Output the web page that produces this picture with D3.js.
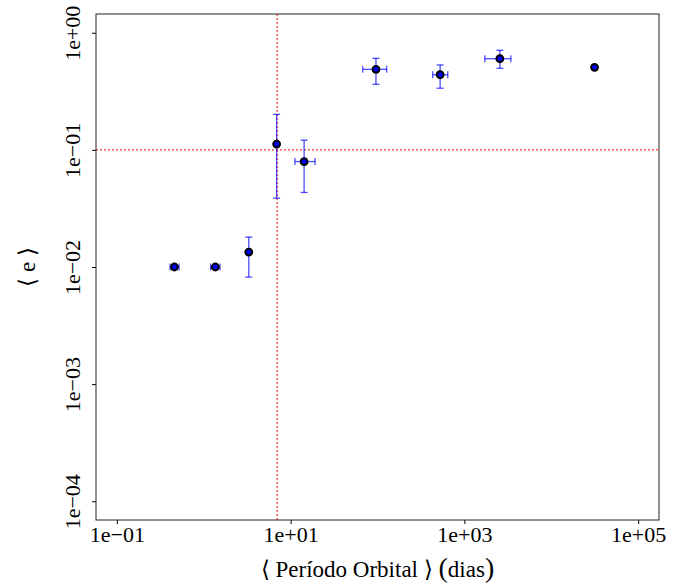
<!DOCTYPE html>
<html>
<head>
<meta charset="utf-8">
<script src="https://cdn.jsdelivr.net/npm/d3@7"></script>
<style>
  body { margin: 0; background: #fff; }
</style>
</head>
<body>
<svg id="chart"></svg>
<script>
// mean orbital period (days) and mean eccentricity per bin
var periods  = [0.46, 1.36, 3.3, 6.9, 14.3, 96, 526, 2560, 31500];
var ecc      = [0.01, 0.01, 0.0134, 0.112, 0.0795, 0.487, 0.438, 0.60, 0.507];
// error bar limits (null = no bar)
var eccLow   = [null, null, 0.0082, 0.0387, 0.0433, 0.363, 0.336, 0.497, null];
var eccHigh  = [null, null, 0.018, 0.201, 0.121, 0.605, 0.531, 0.708, null];
var perLow   = [0.41, 1.2, null, null, 11.2, 67.6, 432, 1718, null];
var perHigh  = [0.52, 1.54, null, null, 19.1, 127.6, 644, 3428, null];

var xTicks = [1e-1, 1e1, 1e3, 1e5];
var xTickLabels = ["1e\u221201", "1e+01", "1e+03", "1e+05"];
var yTicks = [1e-4, 1e-3, 1e-2, 1e-1, 1];
var yTickLabels = ["1e\u221204", "1e\u221203", "1e\u221202", "1e\u221201", "1e+00"];

var vLine = 7.0, hLine = 0.1;

var svgWidth = 689, svgHeight = 588;
var pLeft = 96, pRight = 659, pTop = 14, pBottom = 520;
var serif = "'Liberation Serif'";

var svg = d3.select("#chart")
    .attr("width", svgWidth)
    .attr("height", svgHeight);

// R style 4% padding around xlim = c(0.1, 1e5), ylim = c(1e-4, 1)
var xPad = 0.04 * 6, yPad = 0.04 * 4;
var xScale = d3.scaleLog()
    .domain([Math.pow(10, -1 - xPad), Math.pow(10, 5 + xPad)])
    .range([pLeft, pRight]);
var yScale = d3.scaleLog()
    .domain([Math.pow(10, -4 - yPad), Math.pow(10, 0 + yPad)])
    .range([pBottom, pTop]);

// reference lines
svg.append("line")
    .attr("x1", xScale(vLine)).attr("x2", xScale(vLine))
    .attr("y1", pTop).attr("y2", pBottom)
    .attr("stroke", "#ff0000").attr("stroke-width", 1)
    .attr("stroke-dasharray", "2,2");
svg.append("line")
    .attr("x1", pLeft).attr("x2", pRight)
    .attr("y1", yScale(hLine)).attr("y2", yScale(hLine))
    .attr("stroke", "#ff0000").attr("stroke-width", 1)
    .attr("stroke-dasharray", "2,2");

// axes
var x_axis = d3.axisBottom(xScale)
    .tickValues(xTicks)
    .tickFormat(function(d, i) { return xTickLabels[i]; })
    .tickSize(4).tickSizeOuter(0);
var gx = svg.append("g")
    .attr("transform", "translate(0," + pBottom + ")")
    .call(x_axis)
    .attr("font-family", null)
    .attr("font-size", null);
gx.select(".domain").remove();
gx.selectAll("text")
    .attr("dy", null).attr("y", 22)
    .style("font-family", serif)
    .style("font-size", "22px");

var y_axis = d3.axisLeft(yScale)
    .tickValues(yTicks)
    .tickFormat(function(d, i) { return yTickLabels[i]; })
    .tickSize(4).tickSizeOuter(0);
var gy = svg.append("g")
    .attr("transform", "translate(" + pLeft + ",0)")
    .call(y_axis)
    .attr("font-family", null)
    .attr("font-size", null);
gy.select(".domain").remove();
gy.selectAll(".tick text")
    .attr("x", null).attr("dy", null)
    .attr("text-anchor", "middle")
    .attr("transform", "translate(-16,0) rotate(-90)")
    .style("font-family", serif)
    .style("font-size", "22px");

// box
svg.append("rect")
    .attr("x", pLeft).attr("y", pTop)
    .attr("width", pRight - pLeft).attr("height", pBottom - pTop)
    .attr("fill", "none").attr("stroke", "#222").attr("stroke-width", 1);

// error bars
var errColor = "rgba(0,0,255,0.7)";
var cap = 3.5;
var eb = svg.append("g").attr("stroke", errColor).attr("stroke-width", 1.3);
periods.forEach(function(p, i) {
    var cx = xScale(p), cy = yScale(ecc[i]);
    if (eccLow[i] !== null) {
        var y1 = yScale(eccLow[i]), y2 = yScale(eccHigh[i]);
        eb.append("line").attr("x1", cx).attr("x2", cx).attr("y1", y1).attr("y2", y2);
        eb.append("line").attr("x1", cx - cap).attr("x2", cx + cap).attr("y1", y1).attr("y2", y1);
        eb.append("line").attr("x1", cx - cap).attr("x2", cx + cap).attr("y1", y2).attr("y2", y2);
    }
    if (perLow[i] !== null) {
        var x1 = xScale(perLow[i]), x2 = xScale(perHigh[i]);
        eb.append("line").attr("x1", x1).attr("x2", x2).attr("y1", cy).attr("y2", cy);
        eb.append("line").attr("x1", x1).attr("x2", x1).attr("y1", cy - cap).attr("y2", cy + cap);
        eb.append("line").attr("x1", x2).attr("x2", x2).attr("y1", cy - cap).attr("y2", cy + cap);
    }
});

// points
svg.append("g").selectAll("circle")
    .data(periods)
    .enter().append("circle")
    .attr("cx", function(d) { return xScale(d); })
    .attr("cy", function(d, i) { return yScale(ecc[i]); })
    .attr("r", 3.4)
    .attr("fill", "#0000ff")
    .attr("stroke", "#000")
    .attr("stroke-width", 2);

// axis titles
var xt = svg.append("text")
    .attr("x", (pLeft + pRight) / 2)
    .attr("y", 577)
    .attr("text-anchor", "middle")
    .style("font-family", serif)
    .style("font-size", "23px");
xt.append("tspan").text("\u27E8 Período Orbital \u27E9 ");
xt.append("tspan").style("font-size", "28px").text("(");
xt.append("tspan").text("dias");
xt.append("tspan").style("font-size", "28px").text(")");

svg.append("text")
    .attr("transform", "translate(35," + ((pTop + pBottom) / 2) + ") rotate(-90)")
    .attr("text-anchor", "middle")
    .style("font-family", serif)
    .style("font-size", "23px")
    .text("\u27E8 e \u27E9");
</script>
</body>
</html>
